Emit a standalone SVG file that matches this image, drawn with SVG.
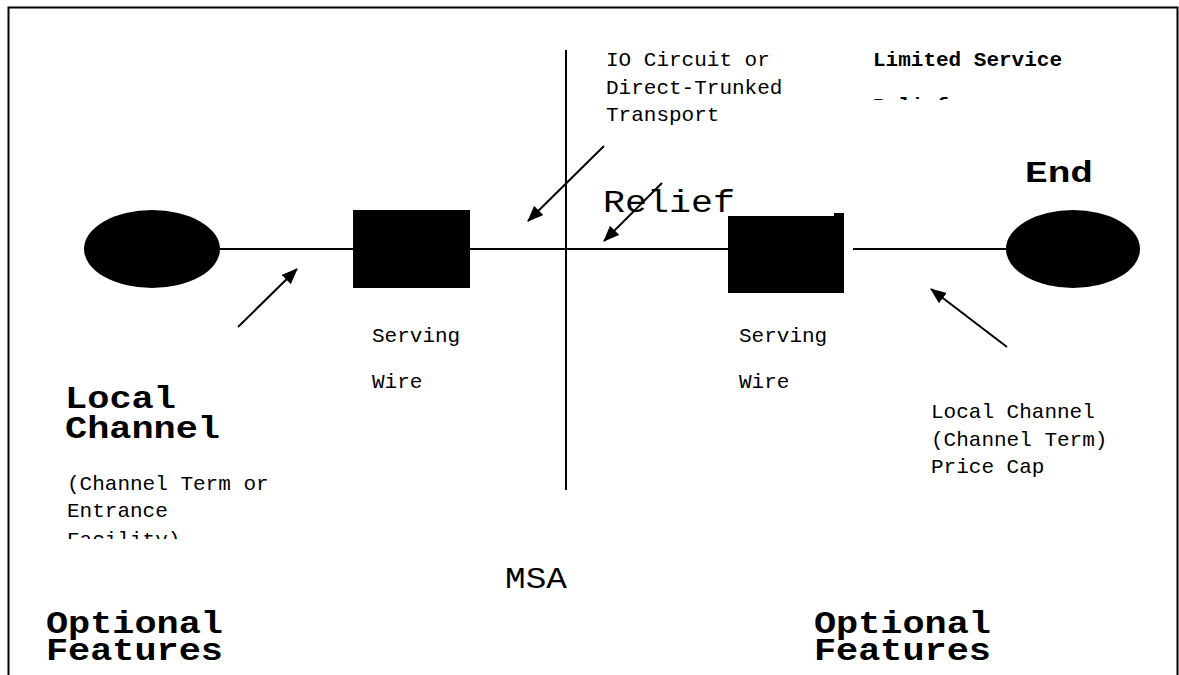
<svg xmlns="http://www.w3.org/2000/svg" width="1179" height="675" viewBox="0 0 1179 675">
<style>
.t{font-family:"Liberation Mono","Courier New",monospace;fill:#000}
.s{font-size:21px}
.b{font-weight:bold}
.L{font-size:31px}
.ln{stroke:#000;stroke-width:2;fill:none}
.ar{stroke:#000;stroke-width:2;fill:none;marker-end:url(#ah)}
</style>
<defs>
<marker id="ah" viewBox="0 0 16 13" refX="15" refY="6.5" markerWidth="16" markerHeight="13" markerUnits="userSpaceOnUse" orient="auto">
<path d="M0,0 L16,6.5 L0,13 Z" fill="#000"/>
</marker>
<clipPath id="c1"><rect x="860" y="96" width="140" height="4"/></clipPath>
<clipPath id="c2"><rect x="60" y="520" width="240" height="19"/></clipPath>
</defs>
<rect width="1179" height="675" fill="#fff"/>
<g id="frame"><path class="ln" d="M8.5,676 V7.5 H1177.5 V676"/></g>
<g id="connectors">
<line class="ln" x1="220" y1="249" x2="353" y2="249"/>
<line class="ln" x1="470" y1="249" x2="728" y2="249"/>
<line class="ln" x1="853" y1="249" x2="1007" y2="249"/>
<line class="ln" x1="566" y1="50" x2="566" y2="490"/>
<line class="ar" x1="238" y1="327" x2="297" y2="269"/>
<line class="ar" x1="604" y1="146" x2="528" y2="221"/>
<line class="ar" x1="662" y1="183" x2="604" y2="241"/>
<line class="ar" x1="1007" y1="347" x2="931" y2="289"/>
</g>
<g id="left-end"><ellipse cx="152" cy="249" rx="68" ry="39" fill="#000"/></g>
<g id="left-wire"><rect x="353" y="210" width="117" height="78" fill="#000"/></g>
<g id="right-wire"><rect x="728" y="216" width="116" height="77" fill="#000"/><rect x="834" y="213" width="10" height="4" fill="#000"/></g>
<g id="right-end"><ellipse cx="1073" cy="249" rx="67" ry="39" fill="#000"/></g>
<g id="labels">
<text class="t s" x="606" y="66">IO Circuit or</text>
<text class="t s" x="606" y="94">Direct-Trunked</text>
<text class="t s" x="606" y="121">Transport</text>
<text class="t s b" x="873" y="66">Limited Service</text>
<text class="t s b" x="873" y="112" clip-path="url(#c1)">Relief</text>
<text class="t L" x="603" y="212" textLength="132" lengthAdjust="spacingAndGlyphs">Relief</text>
<text class="t b" style="font-size:30px" x="1025" y="182" textLength="68" lengthAdjust="spacingAndGlyphs">End</text>
<text class="t s" x="372" y="342">Serving</text>
<text class="t s" x="372" y="388">Wire</text>
<text class="t s" x="739" y="342">Serving</text>
<text class="t s" x="739" y="388">Wire</text>
<text class="t L b" x="65" y="408" textLength="111" lengthAdjust="spacingAndGlyphs">Local</text>
<text class="t L b" x="65" y="438" textLength="155" lengthAdjust="spacingAndGlyphs">Channel</text>
<text class="t s" x="67" y="490">(Channel Term or</text>
<text class="t s" x="67" y="517">Entrance</text>
<text class="t s" x="67" y="546" clip-path="url(#c2)">Facility)</text>
<text class="t s" x="931" y="418">Local Channel</text>
<text class="t s" x="931" y="446">(Channel Term)</text>
<text class="t s" x="931" y="473">Price Cap</text>
<text class="t" style="font-size:30px" x="505" y="588" textLength="62" lengthAdjust="spacingAndGlyphs">MSA</text>
<text class="t L b" x="46" y="633" textLength="177" lengthAdjust="spacingAndGlyphs">Optional</text>
<text class="t L b" x="46" y="660" textLength="177" lengthAdjust="spacingAndGlyphs">Features</text>
<text class="t L b" x="814" y="633" textLength="177" lengthAdjust="spacingAndGlyphs">Optional</text>
<text class="t L b" x="814" y="660" textLength="177" lengthAdjust="spacingAndGlyphs">Features</text>
</g>
</svg>
